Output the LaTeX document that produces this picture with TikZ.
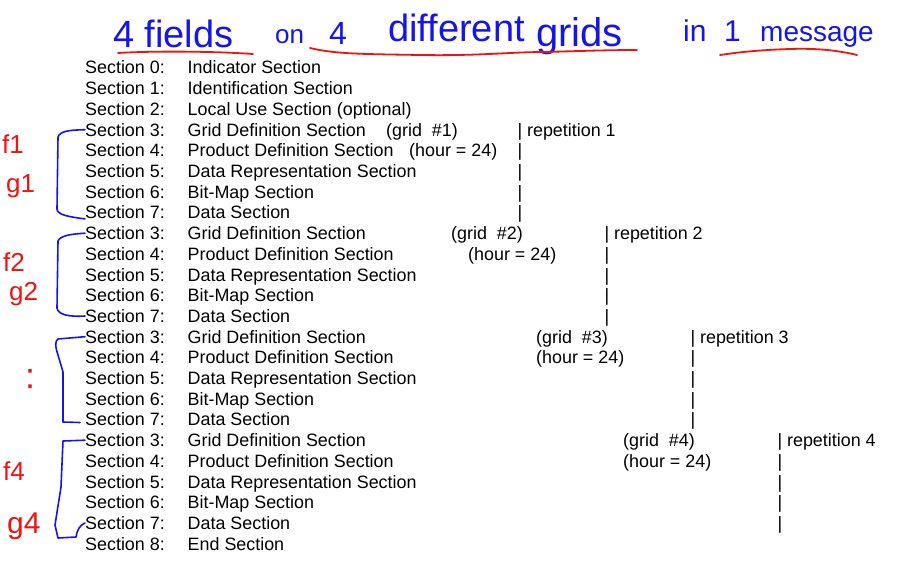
\documentclass[tikz,border=0pt]{standalone}
\usepackage{fontspec}
\setmainfont{Liberation Sans}
\usetikzlibrary{calc}
\definecolor{penblue}{RGB}{20,20,235}
\definecolor{penred}{RGB}{238,20,20}
\tikzset{
  sectext/.style={anchor=base west, inner sep=0pt, font=\fontsize{17.9}{20}\selectfont},
  handblue/.style={anchor=base west, inner sep=0pt, text=penblue},
  handred/.style={anchor=base west, inner sep=0pt, text=penred},
  bracepen/.style={draw=penblue, line width=1.6pt, line cap=round, line join=round},
  underpen/.style={draw=penred, line width=1.8pt, line cap=round}
}
\def\secrow(#1,#2)#3#4{\node[sectext] (#1) at (85,#2) {#3}; \node[sectext] (#1d) at (187.5,#2) {#4};}

\begin{document}
\begin{tikzpicture}[x=1pt, y=-1pt]
		%%%%% START %%%%%
		\path[fill=white] (0,0) rectangle (912,567);
		\useasboundingbox (0,0) rectangle (912,567);
		
		% handwritten title
		\node[handblue, font=\fontsize{38}{40}\selectfont] (tfields) at (113,48) {4 fields};
		\node[handblue, font=\fontsize{26}{28}\selectfont] (ton) at (275,44) {on};
		\node[handblue, font=\fontsize{32}{34}\selectfont] (tfour) at (329,45) {4};
		\node[handblue, font=\fontsize{38}{40}\selectfont] (tdiff) at (388,42) {different};
		\node[handblue, font=\fontsize{40}{42}\selectfont] (tgrids) at (536,47) {grids};
		\node[handblue, font=\fontsize{30}{32}\selectfont] (tin) at (683,42) {in};
		\node[handblue, font=\fontsize{30}{32}\selectfont] (tone) at (724,42) {1};
		\node[handblue, font=\fontsize{28}{30}\selectfont] (tmsg) at (760,42) {message};
		
		\draw[underpen] (118,53) .. controls (150,51) and (210,51) .. (253,54);
		\draw[underpen] (310,48) .. controls (335,54) and (360,54) .. (420,55) .. controls (480,56) and (510,52) .. (545,52) .. controls (580,51) and (610,50) .. (637,50);
		\draw[underpen] (720,55) .. controls (740,52) and (760,50) .. (790,49) .. controls (820,48) and (840,51) .. (857,55);
		
		% sections
		\secrow(sec0,74.0){Section 0:}{Indicator Section}
		\secrow(sec1,94.7){Section 1:}{Identification Section}
		\secrow(sec2,115.4){Section 2:}{Local Use Section (optional)}
		
		\secrow(secA3,136.1){Section 3:}{Grid Definition Section}
		\secrow(secA4,156.8){Section 4:}{Product Definition Section}
		\secrow(secA5,177.5){Section 5:}{Data Representation Section}
		\secrow(secA6,198.2){Section 6:}{Bit-Map Section}
		\secrow(secA7,218.9){Section 7:}{Data Section}
		
		\secrow(secB3,239.6){Section 3:}{Grid Definition Section}
		\secrow(secB4,260.3){Section 4:}{Product Definition Section}
		\secrow(secB5,281.0){Section 5:}{Data Representation Section}
		\secrow(secB6,301.7){Section 6:}{Bit-Map Section}
		\secrow(secB7,322.4){Section 7:}{Data Section}
		
		\secrow(secC3,343.1){Section 3:}{Grid Definition Section}
		\secrow(secC4,363.8){Section 4:}{Product Definition Section}
		\secrow(secC5,384.5){Section 5:}{Data Representation Section}
		\secrow(secC6,405.2){Section 6:}{Bit-Map Section}
		\secrow(secC7,425.9){Section 7:}{Data Section}
		
		\secrow(secD3,446.6){Section 3:}{Grid Definition Section}
		\secrow(secD4,467.3){Section 4:}{Product Definition Section}
		\secrow(secD5,488.0){Section 5:}{Data Representation Section}
		\secrow(secD6,508.7){Section 6:}{Bit-Map Section}
		\secrow(secD7,529.4){Section 7:}{Data Section}
		
		\secrow(sec8,550.1){Section 8:}{End Section}
		
		% grid / hour notes
		\node[sectext] (gridA) at (386,136.1) {(grid \ \#1)};
		\node[sectext] (hourA) at (409,156.8) {(hour = 24)};
		\node[sectext] (gridB) at (451,239.6) {(grid \ \#2)};
		\node[sectext] (hourB) at (468,260.3) {(hour = 24)};
		\node[sectext] (gridC) at (536,343.1) {(grid \ \#3)};
		\node[sectext] (hourC) at (536,363.8) {(hour = 24)};
		\node[sectext] (gridD) at (623,446.6) {(grid \ \#4)};
		\node[sectext] (hourD) at (623,467.3) {(hour = 24)};
		
		% repetition bars
		\node[sectext] (repA) at (517.3,136.1) {| repetition 1};
		\node[sectext] (barA4) at (517.3,156.8) {|};
		\node[sectext] (barA5) at (517.3,177.5) {|};
		\node[sectext] (barA6) at (517.3,198.2) {|};
		\node[sectext] (barA7) at (517.3,218.9) {|};
		
		\node[sectext] (repB) at (604.3,239.6) {| repetition 2};
		\node[sectext] (barB4) at (604.3,260.3) {|};
		\node[sectext] (barB5) at (604.3,281.0) {|};
		\node[sectext] (barB6) at (604.3,301.7) {|};
		\node[sectext] (barB7) at (604.3,322.4) {|};
		
		\node[sectext] (repC) at (690.3,343.1) {| repetition 3};
		\node[sectext] (barC4) at (690.3,363.8) {|};
		\node[sectext] (barC5) at (690.3,384.5) {|};
		\node[sectext] (barC6) at (690.3,405.2) {|};
		\node[sectext] (barC7) at (690.3,425.9) {|};
		
		\node[sectext] (repD) at (777.3,446.6) {| repetition 4};
		\node[sectext] (barD4) at (777.3,467.3) {|};
		\node[sectext] (barD5) at (777.3,488.0) {|};
		\node[sectext] (barD6) at (777.3,508.7) {|};
		\node[sectext] (barD7) at (777.3,529.4) {|};
		
		% handwritten field / grid marks
		\node[handred, font=\fontsize{26}{28}\selectfont] (fA) at (2,153) {f1};
		\node[handred, font=\fontsize{26}{28}\selectfont] (gA) at (6,192) {g1};
		\node[handred, font=\fontsize{26}{28}\selectfont] (fB) at (3,271) {f2};
		\node[handred, font=\fontsize{26}{28}\selectfont] (gB) at (9,300) {g2};
		\node[handred, font=\fontsize{36}{38}\selectfont] (dotsC) at (25,388) {:};
		\node[handred, font=\fontsize{26}{28}\selectfont] (fD) at (3,480) {f4};
		\node[handred, font=\fontsize{30}{32}\selectfont] (gD) at (7,533) {g4};
		
		% brackets
		\draw[bracepen] (secA3.west) .. controls (70,130) and (60,131) .. (58,137) -- (57,209) .. controls (57,215) and (70,217) .. (secA7.base west);
		\draw[bracepen] (secB3.west) .. controls (70,234) and (60,236) .. (58,241) -- (57,308) .. controls (58,315) and (70,317) .. (secB7.west);
		\draw[bracepen] (secC3.west) -- (58,339) .. controls (55,341) and (55,346) .. (58,355) -- (63,372) -- (63,422) -- ($(secC7.west)+(-5,3)$);
		\draw[bracepen] (secD3.west) -- (63,441) -- (61,487) -- (55,525) -- (58,538) -- (76,537) .. controls (77,530) and (80,525) .. (secD7.west);
		
		%%%%% END %%%%%
\end{tikzpicture}
\end{document}
